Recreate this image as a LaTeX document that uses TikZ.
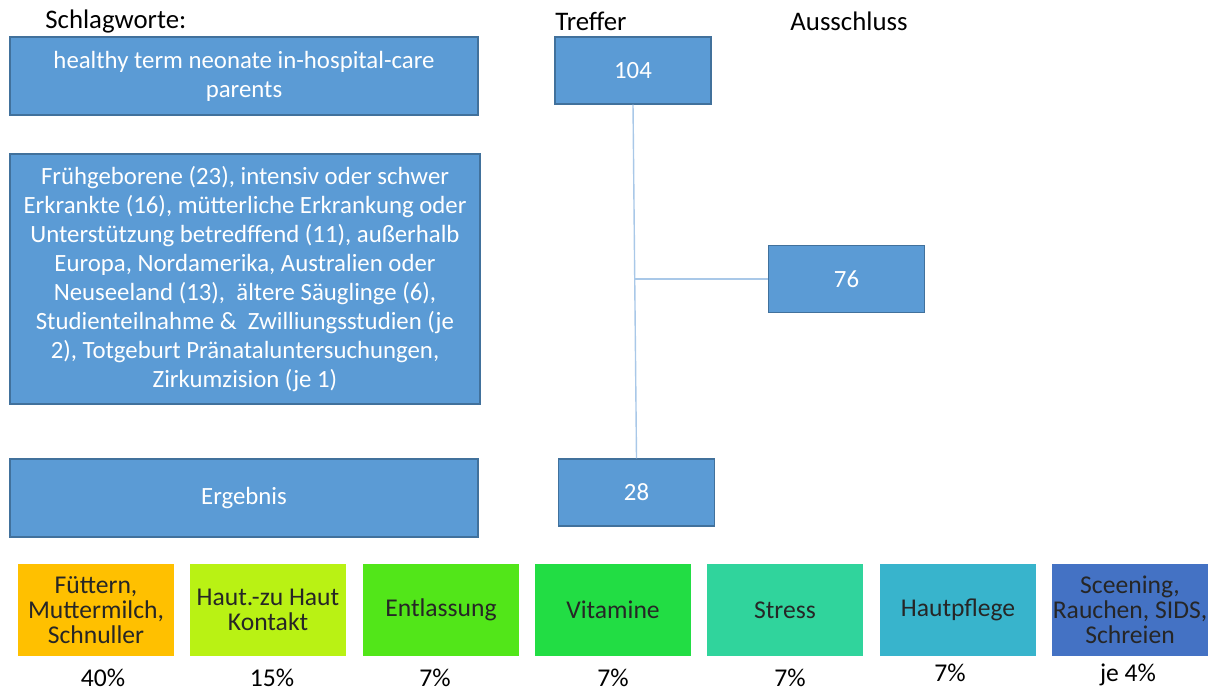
\documentclass[tikz,border=0pt]{standalone}
\usepackage{fontspec}
\setmainfont{Carlito}
\usepackage{tikz}
\usetikzlibrary{positioning}
\definecolor{boxblue}{HTML}{5B9BD5}
\definecolor{edgeblue}{HTML}{41719C}
\definecolor{lineblue}{HTML}{A9C8E8}
\definecolor{feedorange}{HTML}{FFC000}
\definecolor{skinlime}{HTML}{B9F214}
\definecolor{leavegreen}{HTML}{52E619}
\definecolor{vitgreen}{HTML}{22DD44}
\definecolor{stressteal}{HTML}{30D49C}
\definecolor{careturq}{HTML}{38B4CC}
\definecolor{miscblue}{HTML}{4472C4}
\tikzset{
    flowbox/.style={rectangle, draw=edgeblue, line width=0.6pt, fill=boxblue,
                    text=white, align=center, inner sep=0pt,
                    font=\fontsize{12.4}{14.5}\selectfont},
    widebox/.style={flowbox, minimum width=234pt, minimum height=39pt},
    numbox/.style={flowbox, minimum width=78pt, minimum height=33.5pt},
    topicbox/.style={rectangle, inner sep=0pt, align=center, minimum width=78pt,
                     minimum height=46pt, text=black!85,
                     font=\fontsize{12.8}{12.6}\selectfont},
    headlbl/.style={font=\fontsize{13.4}{15}\selectfont, inner sep=0pt, anchor=west},
    pctlbl/.style={font=\fontsize{12.8}{14}\selectfont, inner sep=0pt, text depth=0pt},
    link/.style={draw=lineblue, line width=0.7pt},
}
\begin{document}
\begin{tikzpicture}[x=0.5pt, y=-0.5pt]
    \useasboundingbox (0,0) rectangle (1213,691);
    \node[headlbl] (kwlbl) at (45,21) {Schlagworte:};
    \node[headlbl] (hitlbl) at (555,21) {Treffer};
    \node[headlbl] (exlbl) at (790,21) {Ausschluss};
    \node[widebox] (kw) at (244,76) {healthy term neonate in-hospital-care\\parents};
    \node[widebox, minimum width=235pt, minimum height=125pt] (excl) at (245,279)
        {Frühgeborene (23), intensiv oder schwer\\
         Erkrankte (16), mütterliche Erkrankung oder\\
         Unterstützung betredffend (11), außerhalb\\
         Europa, Nordamerika, Australien oder\\
         Neuseeland (13),~ ältere Säuglinge (6),\\
         Studienteilnahme \&~ Zwilliungsstudien (je\\
         2), Totgeburt Pränataluntersuchungen,\\
         Zirkumzision (je 1)};
    \node[widebox] (erg) at (244,498) {Ergebnis};
    \node[numbox] (hit) at (633,70.5) {104};
    \node[numbox] (out) at (846.5,279) {76};
    \node[numbox] (res) at (636.5,492.5) {28};
    \coordinate (split) at (635,279);
    \draw[link] (hit.south) -- (res.north);
    \draw[link] (split) -- (out.west);
    \node[topicbox, fill=feedorange] (feed) at (96,610) {Füttern,\\Muttermilch,\\Schnuller};
    \node[topicbox, fill=skinlime] (skin) at (268,610) {Haut.-zu Haut\\Kontakt};
    \node[topicbox, fill=leavegreen] (leave) at (441,610) {Entlassung};
    \node[topicbox, fill=vitgreen] (vit) at (613,610) {Vitamine};
    \node[topicbox, fill=stressteal] (stress) at (785,610) {Stress};
    \node[topicbox, fill=careturq] (care) at (958,610) {Hautpflege};
    \node[topicbox, fill=miscblue] (misc) at (1130,610) {Sceening,\\Rauchen, SIDS,\\Schreien};
    \node[pctlbl, below=6pt of feed, xshift=3.5pt] (pfeed) {40\%};
    \node[pctlbl, below=6pt of skin, xshift=2pt] (pskin) {15\%};
    \node[pctlbl, below=6pt of leave, xshift=-3pt] (pleave) {7\%};
    \node[pctlbl, below=6pt of vit] (pvit) {7\%};
    \node[pctlbl, below=6pt of stress, xshift=2.5pt] (pstress) {7\%};
    \node[pctlbl, below=3.5pt of care, xshift=-4pt] (pcare) {7\%};
    \node[pctlbl, below=3.5pt of misc, xshift=-1pt] (pmisc) {je 4\%};
\end{tikzpicture}
\end{document}
